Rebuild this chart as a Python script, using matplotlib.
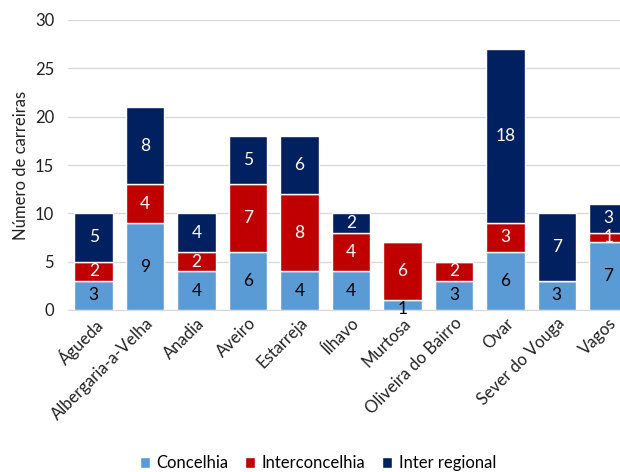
import numpy as np
import matplotlib.pyplot as plt

# data
municipios = ["Águeda", "Albergaria-a-Velha", "Anadia", "Aveiro", "Estarreja", "Ílhavo",
              "Murtosa", "Oliveira do Bairro", "Ovar", "Sever do Vouga", "Vagos"]
concelhia = [3, 9, 4, 6, 4, 4, 1, 3, 6, 3, 7]
interconcelhia = [2, 4, 2, 7, 8, 4, 6, 2, 3, 0, 1]
inter_regional = [5, 8, 4, 5, 6, 2, 0, 0, 18, 7, 3]

plt.rcParams['font.family'] = ['Lato', 'DejaVu Sans']

fig = plt.figure(figsize=(6.2, 4.72), dpi=100)
ax = fig.add_axes([68/620, 1 - 310/472, 566/620, 290/472])

x = np.arange(len(municipios))
series = [("Concelhia", concelhia, "#5B9BD5", "black"),
          ("Interconcelhia", interconcelhia, "#C00000", "white"),
          ("Inter regional", inter_regional, "#002060", "white")]

bottom = np.zeros(len(municipios))
for name, vals, col, txtcol in series:
    vals = np.array(vals, dtype=float)
    ax.bar(x, vals, 0.75, bottom=bottom, color=col, edgecolor="white",
           linewidth=1, label=name, zorder=3)
    for i, v in enumerate(vals):
        if v > 0:
            yc = bottom[i] + v / 2
            if v < 1.5 and name == "Concelhia":
                yc = bottom[i] + 0.1
            ax.text(x[i], yc, "%d" % v, ha="center", va="center",
                    color=txtcol, fontsize=12.5, zorder=4)
    bottom += vals

ax.set_xlim(-0.5, len(municipios) - 0.5)
ax.set_ylim(0, 30)
ax.set_yticks(range(0, 31, 5))
ax.yaxis.grid(True, color="#D9D9D9", linewidth=1, zorder=0)
ax.set_axisbelow(True)
for s in ["top", "right", "left"]:
    ax.spines[s].set_visible(False)
ax.spines["bottom"].set_color("#D9D9D9")
ax.tick_params(axis="both", length=0, labelsize=12, colors="#222222")
ax.tick_params(axis="y", pad=10)
ax.set_xticks(x)
ax.set_xticklabels(municipios, rotation=45, ha="right", rotation_mode="anchor")
ax.set_ylabel("Número de carreiras", fontsize=12, color="#222222")

fig.legend(loc="lower center", bbox_to_anchor=(0.513, -0.03), ncol=3, frameon=False,
           fontsize=12, handlelength=0.6, handleheight=0.6, columnspacing=1.0,
           handletextpad=0.4)

fig.savefig("out.png", dpi=100)
